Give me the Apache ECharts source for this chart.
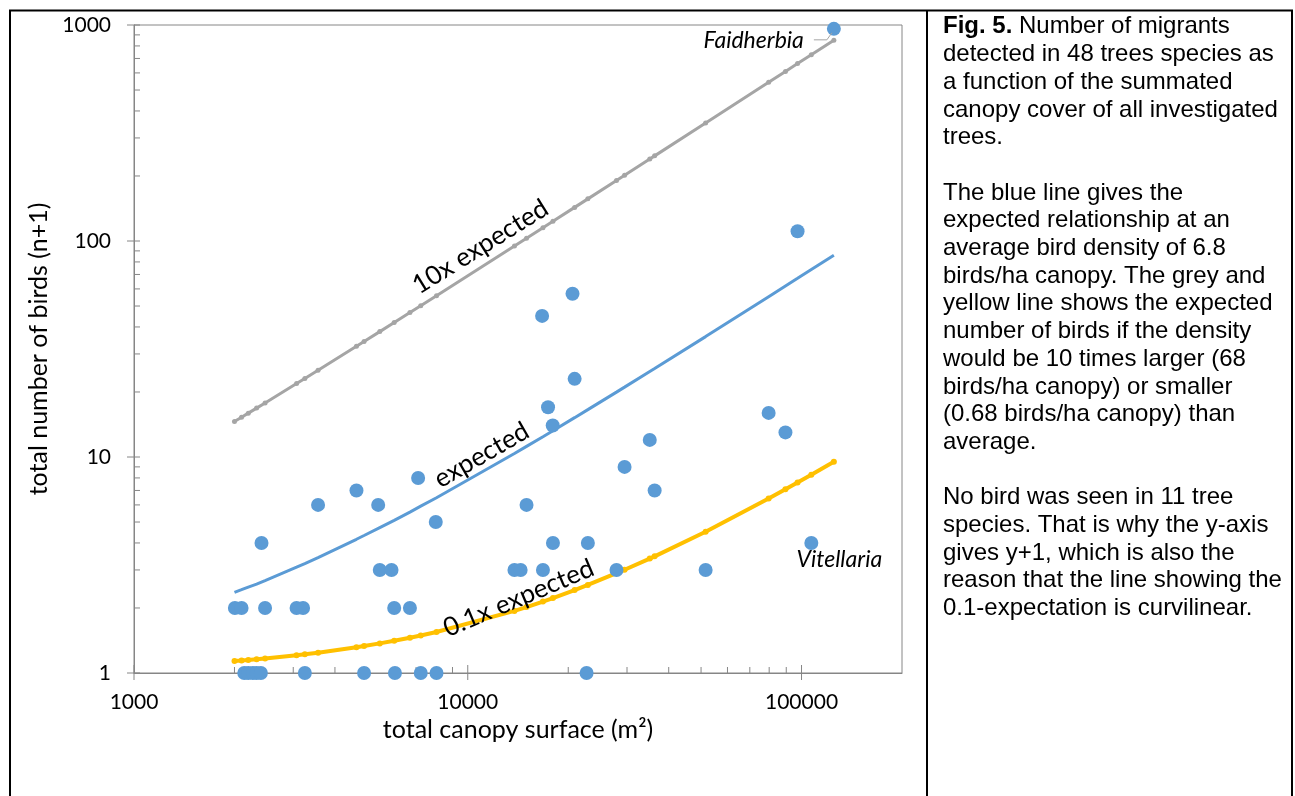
<!DOCTYPE html>
<html><head><meta charset="utf-8">
<script src="https://cdn.jsdelivr.net/npm/echarts@6/dist/echarts.min.js"></script>
<style>html,body{margin:0;padding:0;background:#fff}#c{width:1295px;height:796px}</style>
</head><body><div id="c"></div>
<script>
// ---- data ----
// summed canopy surface (m2) per tree species; last two: Vitellaria, Faidherbia
const canopy = [
  2140, 2200, 2270, 2330, 2400, 3250, 4890, 6050, 7230, 8060, 22700,
  2006, 2100, 2470, 3070, 3210, 6020, 6710,
  5450, 5910, 13800, 14400, 16800, 27900, 51600,
  2410, 18000, 22900,
  8020,
  3560, 5390, 15000,
  4640, 36300,
  7100,
  29500, 35100, 89500, 17970, 79700, 17400, 20900, 16700, 20600, 97300,
  107000, 125000
];
// total number of birds (n+1)
const birds = [
  1, 1, 1, 1, 1, 1, 1, 1, 1, 1, 1,
  2, 2, 2, 2, 2, 2, 2,
  3, 3, 3, 3, 3, 3, 3,
  4, 4, 4,
  5,
  6, 6, 6,
  7, 7,
  8,
  9, 12, 13, 14, 16, 17, 23, 45, 57, 111,
  4, 960
];
const speciesLabels = ['Vitellaria', 'Faidherbia']; // last two points

const lineCanopy = [2000, 2100, 2200, 2330, 2470, 3070, 3250, 3560, 4640, 4890, 5450, 6020, 6710, 7230, 8060,
  13800, 15000, 16800, 18000, 20900, 22900, 27900, 29500, 35100, 36300, 51600, 79700, 89500, 97300, 107000, 125000];
const expected = [2.36, 2.43, 2.50, 2.58, 2.68, 3.09, 3.21, 3.42, 4.16, 4.33, 4.71, 5.09, 5.56, 5.92, 6.48,
  10.38, 11.2, 12.42, 13.24, 15.21, 16.57, 19.97, 21.06, 24.87, 25.68, 36.09, 55.2, 61.86, 67.16, 73.76, 86.0];
const expected10x = [14.6, 15.28, 15.96, 16.84, 17.8, 21.88, 23.1, 25.21, 32.55, 34.25, 38.06, 41.94, 46.63, 50.16, 55.81,
  94.84, 103, 115.2, 123.4, 143.1, 156.7, 190.7, 201.6, 239.7, 247.8, 351.9, 543, 609.6, 662.6, 728.6, 851];
const expected01x = [1.136, 1.143, 1.150, 1.158, 1.168, 1.209, 1.221, 1.242, 1.316, 1.333, 1.371, 1.409, 1.456, 1.492, 1.548,
  1.938, 2.02, 2.142, 2.224, 2.421, 2.557, 2.897, 3.006, 3.387, 3.468, 4.509, 6.42, 7.086, 7.616, 8.276, 9.5];

const xTickLabels = [1000, 10000, 100000];
const yTickLabels = [1, 10, 100, 1000];
const xMinorTicks = [2000, 3000, 4000, 5000, 6000, 7000, 8000, 9000, 20000, 30000, 40000, 50000, 60000, 70000, 80000, 90000];
const yMinorTicks = [2, 3, 4, 5, 6, 7, 8, 9, 20, 30, 40, 50, 60, 70, 80, 90, 200, 300, 400, 500, 600, 700, 800, 900];

const curveLabels = [
  { text: '10x expected', at: [10900, 94], angle: 32 },
  { text: 'expected', at: [11000, 10.2], angle: 30 },
  { text: '0.1x expected', at: [14200, 2.22], angle: 23 }
];

// ---- chart ----
const BLUE = '#5B9BD5', GREY = '#A5A5A5', GOLD = '#FFC000', AXIS = '#868686';
const FONT = 'Lato';
const chart = echarts.init(document.getElementById('c'));

function pairs(xs, ys) { return xs.map((x, i) => [x, ys[i]]); }
function isLabel(v, list) { return list.some(t => Math.abs(Math.log10(v) - Math.log10(t)) < 1e-6); }

const tickData = [];
xMinorTicks.forEach(v => tickData.push([v, 1, 0]));
xTickLabels.forEach(v => tickData.push([v, 1, 1]));
yMinorTicks.forEach(v => tickData.push([1000, v, 2]));
yTickLabels.forEach(v => tickData.push([1000, v, 3]));

chart.setOption({
  animation: false,
  backgroundColor: '#fff',
  grid: { left: 134, right: 393, top: 25, bottom: 123, show: true, borderColor: AXIS, borderWidth: 1, containLabel: false },
  xAxis: {
    type: 'log', logBase: 10, min: 1000, max: 200000,
    name: 'total canopy surface (m²)', nameLocation: 'middle', nameGap: 42,
    nameTextStyle: { fontFamily: FONT, fontSize: 25, color: '#000' },
    axisLine: { lineStyle: { color: AXIS, width: 1 } },
    axisTick: { show: false }, splitLine: { show: false }, minorTick: { show: false },
    axisLabel: { margin: 19, fontFamily: FONT, fontSize: 21, color: '#000', showMaxLabel: false,
      formatter: v => isLabel(v, xTickLabels) ? String(Math.round(v)) : '' }
  },
  yAxis: {
    type: 'log', logBase: 10, min: 1, max: 1000,
    name: 'total number of birds (n+1)', nameLocation: 'middle', nameGap: 81,
    nameTextStyle: { fontFamily: FONT, fontSize: 25, color: '#000' },
    axisLine: { lineStyle: { color: AXIS, width: 1 } },
    axisTick: { show: false }, splitLine: { show: false }, minorTick: { show: false },
    axisLabel: { margin: 23, fontFamily: FONT, fontSize: 21, color: '#000',
      formatter: v => isLabel(v, yTickLabels) ? String(Math.round(v)) : '' }
  },
  series: [
    {
      type: 'custom', name: 'ticks', clip: false, silent: true, z: 1,
      encode: { x: 0, y: 1 },
      data: tickData,
      renderItem: function (params, api) {
        const kind = api.value(2);
        const p = api.coord([api.value(0), api.value(1)]);
        let shape;
        if (kind === 0) shape = { x1: p[0], y1: p[1], x2: p[0], y2: p[1] - 6 };
        else if (kind === 1) shape = { x1: p[0], y1: p[1] + 7, x2: p[0], y2: p[1] - 8 };
        else if (kind === 2) shape = { x1: p[0], y1: p[1], x2: p[0] + 6, y2: p[1] };
        else shape = { x1: p[0] - 7, y1: p[1], x2: p[0] + 6, y2: p[1] };
        return { type: 'line', shape: shape, style: { stroke: AXIS, lineWidth: 1 } };
      }
    },
    { type: 'line', name: '10x expected', data: pairs(lineCanopy, expected10x), symbol: 'circle', symbolSize: 5,
      itemStyle: { color: GREY }, lineStyle: { color: GREY, width: 3 }, z: 2 },
    { type: 'line', name: 'expected', data: pairs(lineCanopy, expected), symbol: 'none',
      itemStyle: { color: BLUE }, lineStyle: { color: BLUE, width: 3 }, z: 2 },
    { type: 'line', name: '0.1x expected', data: pairs(lineCanopy, expected01x), symbol: 'circle', symbolSize: 6,
      itemStyle: { color: GOLD }, lineStyle: { color: GOLD, width: 4 }, z: 2 },
    { type: 'scatter', name: 'species', data: pairs(canopy, birds), symbol: 'circle', symbolSize: 14,
      itemStyle: { color: BLUE, opacity: 1 }, z: 3 }
  ]
});

// ---- annotations placed through the chart's own coordinate conversion ----
const graphics = [];
curveLabels.forEach(l => {
  const p = chart.convertToPixel({ gridIndex: 0 }, l.at);
  graphics.push({ type: 'text', x: p[0], y: p[1], rotation: l.angle * Math.PI / 180, z: 10,
    style: { text: l.text, fontFamily: FONT, fontSize: 26, fill: '#000', align: 'center', verticalAlign: 'middle' } });
});
const n = canopy.length;
const pv = chart.convertToPixel({ gridIndex: 0 }, [canopy[n - 2], birds[n - 2]]);
const pf = chart.convertToPixel({ gridIndex: 0 }, [canopy[n - 1], birds[n - 1]]);
graphics.push({ type: 'text', x: pf[0] - 30, y: pf[1] + 12, z: 10,
  style: { text: speciesLabels[1], fontFamily: FONT, fontStyle: 'italic', fontSize: 23, fill: '#000', align: 'right', verticalAlign: 'middle' } });
graphics.push({ type: 'polyline', z: 10, shape: { points: [[pf[0] - 20, pf[1] + 11], [pf[0] - 7, pf[1] + 11], [pf[0] - 2, pf[1] + 4]] },
  style: { stroke: '#A5A5A5', lineWidth: 1, fill: null } });
graphics.push({ type: 'text', x: pv[0] + 28, y: pv[1] + 17, z: 10,
  style: { text: speciesLabels[0], fontFamily: FONT, fontStyle: 'italic', fontSize: 23, fill: '#000', align: 'center', verticalAlign: 'middle' } });

// frame and caption
graphics.push({ type: 'polyline', z: 10, shape: { points: [[10, 800], [10, 10.5], [1292, 10.5], [1292, 800]] },
  style: { stroke: '#000', lineWidth: 2, fill: null } });
graphics.push({ type: 'line', z: 10, shape: { x1: 927, y1: 10, x2: 927, y2: 800 }, style: { stroke: '#000', lineWidth: 2 } });
const caption = '{b|Fig. 5.} Number of migrants\ndetected in 48 trees species as\na function of the summated\ncanopy cover of all investigated\ntrees.\n\n' +
  'The blue line gives the\nexpected relationship at an\naverage bird density of 6.8\nbirds/ha canopy. The grey and\nyellow line shows the expected\nnumber of birds if the density\nwould be 10 times larger (68\nbirds/ha canopy) or smaller\n(0.68 birds/ha canopy) than\naverage.\n\n' +
  'No bird was seen in 11 tree\nspecies. That is why the y-axis\ngives y+1, which is also the\nreason that the line showing the\n0.1-expectation is curvilinear.';
graphics.push({ type: 'text', x: 943, y: 13, z: 10,
  style: { text: caption, fontFamily: 'Liberation Sans', fontSize: 24, lineHeight: 27.7, fill: '#000', align: 'left', verticalAlign: 'top',
    rich: { b: { fontFamily: 'Liberation Sans', fontSize: 24, fontWeight: 'bold', lineHeight: 27.7 } } } });

chart.setOption({ graphic: graphics });
</script></body></html>
